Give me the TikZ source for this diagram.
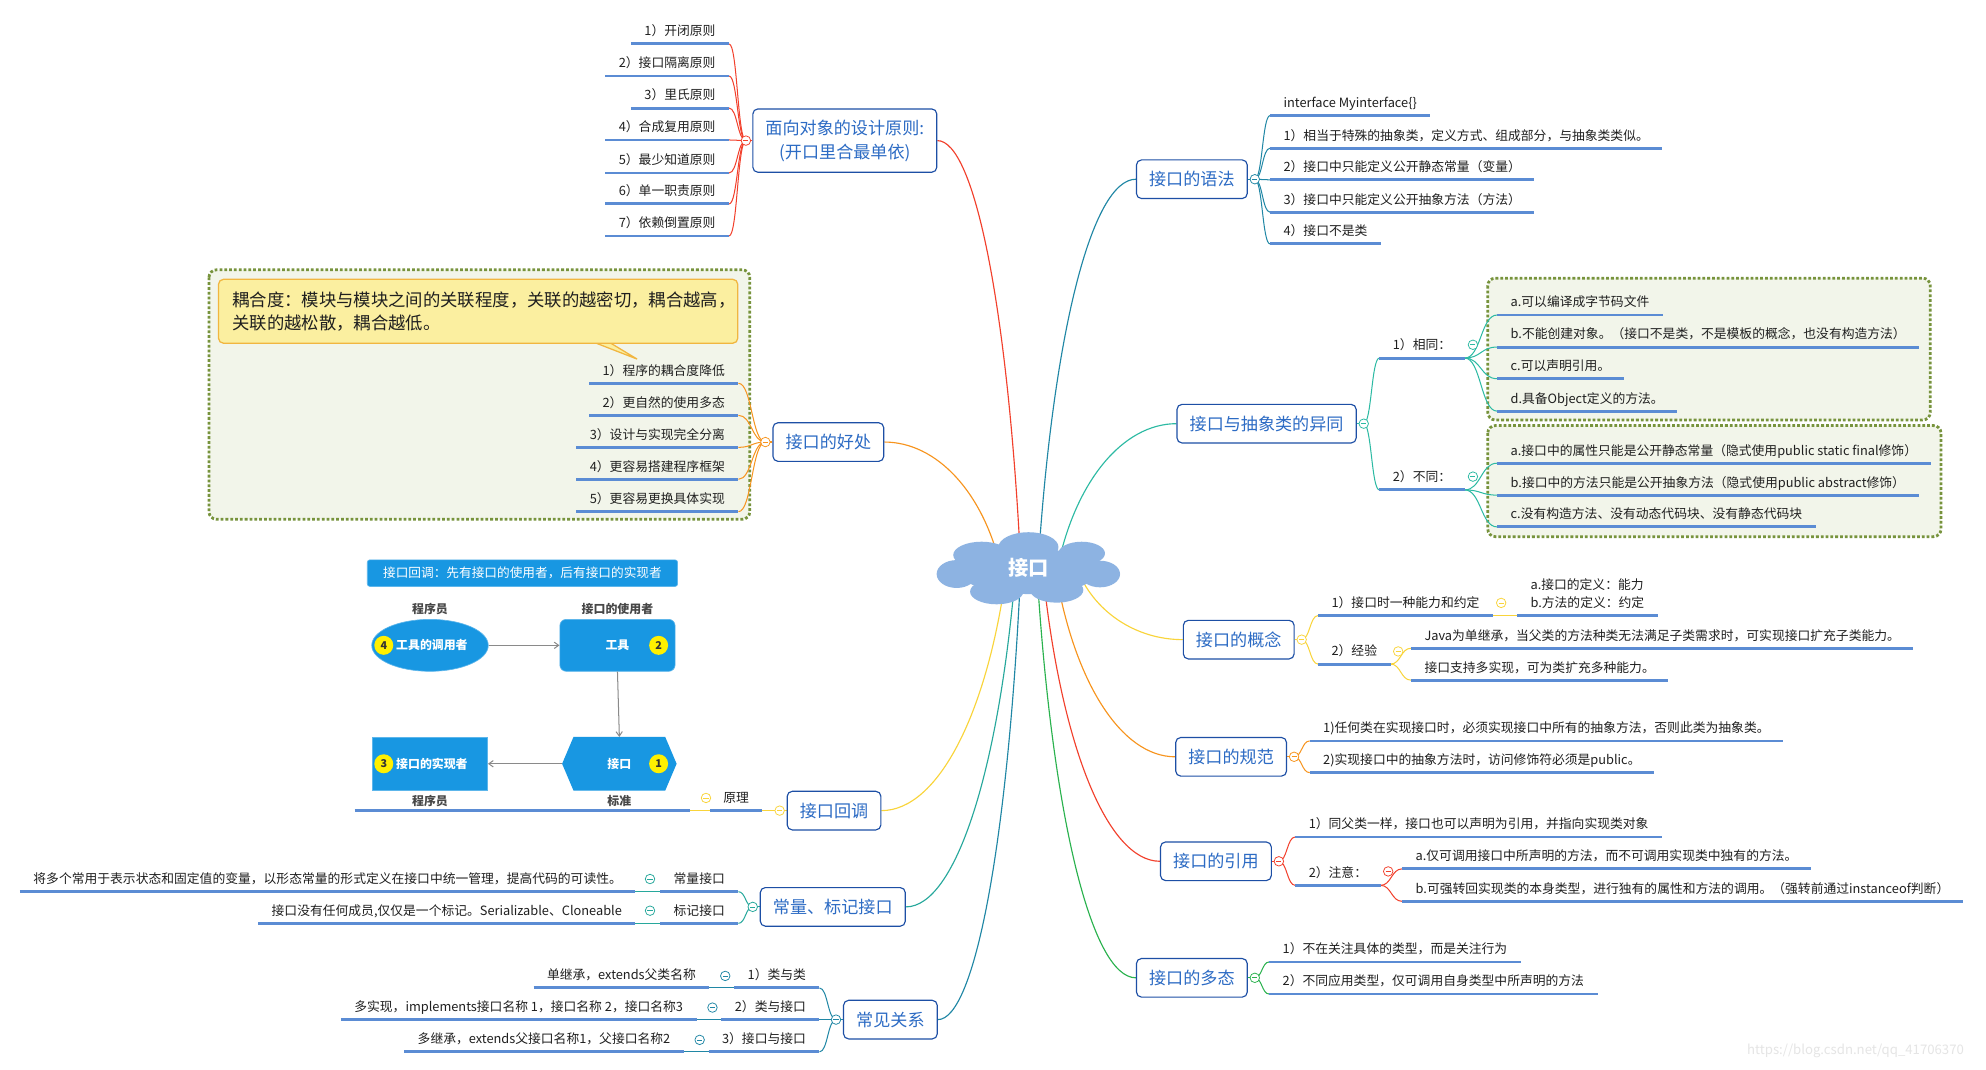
\documentclass[tikz,border=0pt]{standalone}
\usepackage{fontspec}
\setmainfont{Noto Sans CJK SC}
\usetikzlibrary{calc,arrows.meta,shapes.geometric}
\pgfdeclarelayer{back}
\pgfdeclarelayer{mid}
\pgfsetlayers{back,mid,main}
\definecolor{ubl}{HTML}{5B8CD4}
\definecolor{bxb}{HTML}{1D4FA5}
\definecolor{bxt}{HTML}{2C6BC4}
\definecolor{cred}{HTML}{F2402C}
\definecolor{cteal}{HTML}{2087A5}
\definecolor{cteal2}{HTML}{2CBAA3}
\definecolor{cteal3}{HTML}{27A89C}
\definecolor{corg}{HTML}{F7941E}
\definecolor{cyel}{HTML}{F9D43A}
\definecolor{cgrn}{HTML}{2AB24E}
\definecolor{cloudc}{HTML}{8DB3E2}
\definecolor{dotg}{HTML}{77933C}
\definecolor{dotfill}{HTML}{F2F5EA}
\definecolor{callf}{HTML}{FBEFA0}
\definecolor{callb}{HTML}{F1B640}
\definecolor{dblue}{HTML}{1897E2}
\definecolor{dyel}{HTML}{FFF000}
\definecolor{dgray}{HTML}{8A8A8A}
\newcommand\rconn[3]{\draw[conn,#1] let \p1=([xshift=#3pt]root.center), \p2=(#2), \n1={\x1+0.15*(\x2-\x1)}, \n2={\y1+0.6*(\y2-\y1)}, \n3={\x1+0.55*(\x2-\x1)} in (\p1) .. controls (\n1,\n2) and (\n3,\y2) .. (\p2);}
\newcommand\bconn[3]{\draw[br,#1] let \p1=(#2), \p2=(#3), \n1={0.5*(\x1+\x2)} in (\p1) .. controls (\n1,\y1) and (\n1,\y2) .. (\p2);}
\begin{document}
\begin{tikzpicture}[x=1pt,y=1pt,
 leaf/.style={font=\fontsize{10.1}{13}\selectfont, text=black!88, inner xsep=10.5pt, inner ysep=4pt, text height=8.2pt, text depth=2.2pt},
 uline/.style={draw=ubl, line width=2.3pt},
 topic/.style={draw=bxb, line width=0.9pt, rounded corners=4pt, fill=white, text=bxt, font=\fontsize{13.5}{19}\selectfont, inner xsep=10pt, inner ysep=3pt, minimum height=30.5pt},
 cc/.style={circle, draw=#1, fill=white, minimum size=7.5pt, inner sep=0pt, line width=0.6pt, path picture={\draw[#1, line width=0.6pt] ([xshift=-2pt]path picture bounding box.center) -- ([xshift=2pt]path picture bounding box.center);}},
 conn/.style={line width=0.9pt},
 br/.style={line width=0.8pt},
 dotbox/.style={draw=dotg, fill=dotfill, line width=2.2pt, dash pattern=on 2.2pt off 1.6pt, rounded corners=6pt},
 dshape/.style={fill=dblue, draw=dblue!70!white, line width=0.5pt, text=white, font=\fontsize{9.4}{11}\selectfont\bfseries, inner sep=0pt},
 ycirc/.style={circle, fill=dyel, minimum size=15pt, inner sep=0pt, text=black!80, font=\fontsize{8.5}{9}\selectfont\bfseries},
 dlab/.style={text=black!72, font=\fontsize{9.4}{11}\selectfont\bfseries, inner sep=1pt},
 darr/.style={draw=dgray, line width=0.8pt, -{Straight Barb[length=3.5pt,width=5pt]}}
]
\begin{pgfonlayer}{back}
\fill[white] (0,0) rectangle (1568,-844);
\draw[dotbox] (165,-213) rectangle (592,-410);
\draw[dotbox] (1174.6,-219.6) rectangle (1524,-331.6);
\draw[dotbox] (1174.6,-336) rectangle (1532.5,-423.7);
\filldraw[fill=callf, draw=callb, line width=1pt] (458,-266) -- (503,-283.5) -- (474,-266) -- cycle;
\node[draw=callb, fill=callf, line width=1pt, rounded corners=4pt, anchor=north west, minimum height=50.5pt, inner xsep=11pt, text width=388pt, align=left, font=\fontsize{13.7}{18}\selectfont, text=black!88] (note) at (172,-220) {耦合度：模块与模块之间的关联程度，关联的越密切，耦合越高，\\关联的越松散，耦合越低。};
\end{pgfonlayer}
\useasboundingbox (0,0) rectangle (1568,-844);

% cloud
\fill[cloudc] (812,-451) ellipse (55 and 18);
\fill[cloudc] (812,-432) ellipse (23.7 and 11.8);
\fill[cloudc] (775,-438.2) ellipse (22.4 and 10.5);
\fill[cloudc] (854,-436.9) ellipse (18.4 and 9.2);
\fill[cloudc] (755.3,-453.2) ellipse (15.8 and 11);
\fill[cloudc] (868.5,-453.2) ellipse (15.8 and 10.5);
\fill[cloudc] (786.9,-467.1) ellipse (21 and 10);
\fill[cloudc] (834.3,-465.8) ellipse (21 and 10);
\node[font=\fontsize{16}{16}\selectfont\bfseries, text=white] (root) at (812,-448) {接口};

% ---------- right side ----------
\node[topic] (syntax) at (941,-141.5) {接口的语法};
\node[leaf, anchor=south west] (s0) at (1002.7,-91.3) {interface Myinterface\{\}};
\node[leaf, anchor=south west] (s1) at (1002.7,-117) {1）相当于特殊的抽象类，定义方式、组成部分，与抽象类类似。};
\node[leaf, anchor=south west] (s2) at (1002.7,-142) {2）接口中只能定义公开静态常量（变量）};
\node[leaf, anchor=south west] (s3) at (1002.7,-167.5) {3）接口中只能定义公开抽象方法（方法）};
\node[leaf, anchor=south west] (s4) at (1002.7,-192.6) {4）接口不是类};

\node[topic] (diff) at (1000,-334.5) {接口与抽象类的异同};
\node[leaf, anchor=south west] (d1) at (1089,-282.7) {1）相同：};
\node[leaf, anchor=south west] (d2) at (1089,-386.8) {2）不同：};
\node[leaf, anchor=south west] (da) at (1182,-248.7) {a.可以编译成字节码文件};
\node[leaf, anchor=south west] (db) at (1182,-274) {b.不能创建对象。（接口不是类，不是模板的概念，也没有构造方法）};
\node[leaf, anchor=south west] (dc) at (1182,-299) {c.可以声明引用。};
\node[leaf, anchor=south west] (dd) at (1182,-324.6) {d.具备Object定义的方法。};
\node[leaf, anchor=south west] (de) at (1182,-365.7) {a.接口中的属性只能是公开静态常量（隐式使用public static final修饰）};
\node[leaf, anchor=south west] (df) at (1182,-390.9) {b.接口中的方法只能是公开抽象方法（隐式使用public abstract修饰）};
\node[leaf, anchor=south west] (dg) at (1182,-416) {c.没有构造方法、没有动态代码块、没有静态代码块};

\node[topic] (concept) at (978,-505) {接口的概念};
\node[leaf, anchor=south west] (k1) at (1040.6,-486) {1）接口时一种能力和约定};
\node[leaf, anchor=south west, align=left] (kab) at ([xshift=19pt]k1.south east) {a.接口的定义：能力\\[1.2pt]b.方法的定义：约定};
\node[leaf, anchor=south west] (k2) at (1040.6,-524.3) {2）经验};
\node[leaf, anchor=south west] (k2a) at (1114,-511.8) {Java为单继承，当父类的方法种类无法满足子类需求时，可实现接口扩充子类能力。};
\node[leaf, anchor=south west] (k2b) at (1114,-537) {接口支持多实现，可为类扩充多种能力。};

\node[topic] (spec) at (972,-597.5) {接口的规范};
\node[leaf, anchor=south west] (p1) at (1034,-585) {1)任何类在实现接口时，必须实现接口中所有的抽象方法，否则此类为抽象类。};
\node[leaf, anchor=south west] (p2) at (1034,-610) {2)实现接口中的抽象方法时，访问修饰符必须是public。};

\node[topic] (refn) at (960,-680) {接口的引用};
\node[leaf, anchor=south west] (f1) at (1022.6,-660.8) {1）同父类一样，接口也可以声明为引用，并指向实现类对象};
\node[leaf, anchor=south west] (f2) at (1022.6,-699) {2）注意：};
\node[leaf, anchor=south west] (f2a) at (1107,-686) {a.仅可调用接口中所声明的方法，而不可调用实现类中独有的方法。};
\node[leaf, anchor=south west] (f2b) at (1107,-711.6) {b.可强转回实现类的本身类型，进行独有的属性和方法的调用。（强转前通过instanceof判断）};

\node[topic] (poly) at (941,-772) {接口的多态};
\node[leaf, anchor=south west] (m1) at (1002,-759.5) {1）不在关注具体的类型，而是关注行为};
\node[leaf, anchor=south west] (m2) at (1002,-784.8) {2）不同应用类型，仅可调用自身类型中所声明的方法};

% ---------- left side ----------
\node[topic, align=center, minimum height=50pt] (oop) at (667,-111) {面向对象的设计原则:\\(开口里合最单依)};
\node[leaf, anchor=south east] (o1) at (575.6,-34.7) {1）开闭原则};
\node[leaf, anchor=south east] (o2) at (575.6,-60) {2）接口隔离原则};
\node[leaf, anchor=south east] (o3) at (575.6,-85.3) {3）里氏原则};
\node[leaf, anchor=south east] (o4) at (575.6,-110.5) {4）合成复用原则};
\node[leaf, anchor=south east] (o5) at (575.6,-136.6) {5）最少知道原则};
\node[leaf, anchor=south east] (o6) at (575.6,-161) {6）单一职责原则};
\node[leaf, anchor=south east] (o7) at (575.6,-186.3) {7）依赖倒置原则};

\node[topic] (benefit) at (654,-349) {接口的好处};
\node[leaf, anchor=south east] (b1) at (583,-302.6) {1）程序的耦合度降低};
\node[leaf, anchor=south east] (b2) at (583,-327.9) {2）更自然的使用多态};
\node[leaf, anchor=south east] (b3) at (583,-353.2) {3）设计与实现完全分离};
\node[leaf, anchor=south east] (b4) at (583,-378.4) {4）更容易搭建程序框架};
\node[leaf, anchor=south east] (b5) at (583,-404) {5）更容易更换具体实现};

\node[topic] (callback) at (658.5,-640) {接口回调};
\node[leaf, anchor=south east] (yl) at (602,-640) {原理};
\coordinate (diagR) at (545,-640);
\coordinate (diagL) at (280,-640);

\node[topic] (cmk) at (657.5,-716) {常量、标记接口};
\node[leaf, anchor=south east] (cm1) at (583,-704) {常量接口};
\node[leaf, anchor=south east] (cm2) at (583,-729) {标记接口};
\node[leaf, anchor=south east] (cl1) at ([xshift=-19.5pt]cm1.south west) {将多个常用于表示状态和固定值的变量，以形态常量的形式定义在接口中统一管理，提高代码的可读性。};
\node[leaf, anchor=south east] (cl2) at ([xshift=-19.5pt]cm2.south west) {接口没有任何成员,仅仅是一个标记。Serializable、Cloneable};

\node[topic] (rel) at (703,-805) {常见关系};
\node[leaf, anchor=south east] (r1) at (647,-780) {1）类与类};
\node[leaf, anchor=south east] (r2) at (647,-805) {2）类与接口};
\node[leaf, anchor=south east] (r3) at (647,-830.5) {3）接口与接口};
\node[leaf, anchor=south east] (rl1) at ([xshift=-19.5pt]r1.south west) {单继承，extends父类名称};
\node[leaf, anchor=south east] (rl2) at ([xshift=-19.5pt]r2.south west) {多实现，implements接口名称 1，接口名称 2，接口名称3};
\node[leaf, anchor=south east] (rl3) at ([xshift=-19.5pt]r3.south west) {多继承，extends父接口名称1，父接口名称2};

% underlines
\foreach \k in {s0,s1,s2,s3,s4,d1,d2,da,db,dc,dd,de,df,dg,k1,kab,k2,k2a,k2b,p1,p2,f1,f2,f2a,f2b,m1,m2,o1,o2,o3,o4,o5,o6,o7,b1,b2,b3,b4,b5,yl,cm1,cm2,cl1,cl2,r1,r2,r3,rl1,rl2,rl3}
  \draw[uline] (\k.south west) -- (\k.south east);
\draw[uline] (diagL) -- (diagR);

% collapse circles
\node[cc=cteal] (syntaxc) at ([xshift=5.5pt]syntax.east) {};
\node[cc=cteal2] (diffc) at ([xshift=5.5pt]diff.east) {};
\node[cc=cteal2] (d1c) at ([xshift=6.5pt,yshift=10.5pt]d1.south east) {};
\node[cc=cteal2] (d2c) at ([xshift=6.5pt,yshift=10.5pt]d2.south east) {};
\node[cc=cyel] (conceptc) at ([xshift=5.5pt]concept.east) {};
\node[cc=cyel] (k1c) at ([xshift=6.5pt,yshift=10pt]k1.south east) {};
\node[cc=cyel] (k2c) at ([xshift=6pt,yshift=10pt]k2.south east) {};
\node[cc=corg] (specc) at ([xshift=5.5pt]spec.east) {};
\node[cc=cred] (refnc) at ([xshift=5.5pt]refn.east) {};
\node[cc=cred] (f2c) at ([xshift=6pt,yshift=11pt]f2.south east) {};
\node[cc=cgrn] (polyc) at ([xshift=5.5pt]poly.east) {};
\node[cc=cred] (oopc) at ([xshift=-5pt]oop.west) {};
\node[cc=corg] (benefitc) at ([xshift=-5.5pt]benefit.west) {};
\node[cc=cyel] (callbackc) at ([xshift=-5.5pt]callback.west) {};
\node[cc=cyel] (ylc) at ([xshift=-3pt,yshift=10pt]yl.south west) {};
\node[cc=cteal3] (cmkc) at ([xshift=-5.5pt]cmk.west) {};
\node[cc=cteal3] (cm1c) at ([xshift=-8pt,yshift=10pt]cm1.south west) {};
\node[cc=cteal3] (cm2c) at ([xshift=-8pt,yshift=10pt]cm2.south west) {};
\node[cc=cteal] (relc) at ([xshift=-5.5pt]rel.west) {};
\node[cc=cteal] (r1c) at ([xshift=-7pt,yshift=9.5pt]r1.south west) {};
\node[cc=cteal] (r2c) at ([xshift=-7pt,yshift=9.5pt]r2.south west) {};
\node[cc=cteal] (r3c) at ([xshift=-7pt,yshift=9.5pt]r3.south west) {};

% ---------- callback diagram ----------
\node[dshape, rounded corners=2pt, minimum width=245pt, minimum height=21pt, font=\fontsize{10}{12}\selectfont] (ban) at (412.5,-452.5) {接口回调：先有接口的使用者，后有接口的实现者};
\node[dlab] (lab1) at (339.5,-481) {程序员};
\node[dlab] (lab2) at (487.5,-481) {接口的使用者};
\node[dlab] (lab3) at (339.5,-632) {程序员};
\node[dlab] (lab4) at (489,-632) {标准};
\node[dshape, ellipse, minimum width=92pt, minimum height=41pt] (ell) at (339.5,-509.5) {\hspace{3pt}工具的调用者};
\node[dshape, rounded corners=5pt, minimum width=91pt, minimum height=41pt] (tool) at (487.5,-509.5) {工具};
\node[dshape, minimum width=91pt, minimum height=42pt] (impl) at (339.5,-603) {\hspace{3pt}接口的实现者};
\node[text=white, font=\fontsize{9.4}{11}\selectfont\bfseries, minimum width=90pt, minimum height=42pt, inner sep=0pt] (hex) at (489,-603) {接口};
\node[ycirc] (n4) at (303,-509.5) {4};
\node[ycirc] (n2) at (520,-509.5) {2};
\node[ycirc] (n3) at (303,-603) {3};
\node[ycirc] (n1) at (520,-603) {1};
\draw[darr] (ell.east) -- (tool.west);
\draw[darr] (tool.south) -- (hex.north);
\draw[darr] (hex.west) -- (impl.east);

\node[text=black!10, font=\fontsize{10.4}{12}\selectfont] (wm) at (1465,-829.5) {https://blog.csdn.net/qq\_41706370};

% ---------- connectors ----------
\begin{pgfonlayer}{mid}
\fill[dblue] (hex.west) -- ([xshift=9pt]hex.north west) -- ([xshift=-9pt]hex.north east) -- (hex.east) -- ([xshift=-9pt]hex.south east) -- ([xshift=9pt]hex.south west) -- cycle;
\rconn{cred}{oop.east}{-6}
\rconn{cteal}{syntax.west}{7.5}
\rconn{cteal2}{diff.west}{23}
\rconn{corg}{benefit.east}{-22}
\rconn{cyel}{concept.west}{38}
\rconn{corg}{spec.west}{21}
\rconn{cred}{refn.west}{11}
\rconn{cgrn}{poly.west}{6.5}
\rconn{cyel}{callback.east}{-17}
\rconn{cteal3}{cmk.east}{-10}
\rconn{cteal}{rel.east}{-6}
\draw[conn,cteal] (syntax.east) -- (syntaxc.center);
\draw[conn,cteal2] (diff.east) -- (diffc.center);
\draw[conn,cyel] (concept.east) -- (conceptc.center);
\draw[conn,corg] (spec.east) -- (specc.center);
\draw[conn,cred] (refn.east) -- (refnc.center);
\draw[conn,cgrn] (poly.east) -- (polyc.center);
\draw[conn,cred] (oop.west) -- (oopc.center);
\draw[conn,corg] (benefit.west) -- (benefitc.center);
\draw[conn,cyel] (callback.west) -- (callbackc.center);
\draw[conn,cteal3] (cmk.west) -- (cmkc.center);
\draw[conn,cteal] (rel.west) -- (relc.center);
\foreach \k in {s0,s1,s2,s3,s4} {\bconn{cteal}{syntaxc.center}{\k.south west}}
\bconn{cteal2}{diffc.center}{d1.south west}
\bconn{cteal2}{diffc.center}{d2.south west}
\foreach \k in {da,db,dc,dd} {\bconn{cteal2}{d1.south east}{\k.south west}}
\foreach \k in {de,df,dg} {\bconn{cteal2}{d2.south east}{\k.south west}}
\bconn{cyel}{conceptc.center}{k1.south west}
\bconn{cyel}{conceptc.center}{k2.south west}
\draw[br,cyel] (k1.south east) -- (kab.south west);
\bconn{cyel}{k2.south east}{k2a.south west}
\bconn{cyel}{k2.south east}{k2b.south west}
\bconn{corg}{specc.center}{p1.south west}
\bconn{corg}{specc.center}{p2.south west}
\bconn{cred}{refnc.center}{f1.south west}
\bconn{cred}{refnc.center}{f2.south west}
\bconn{cred}{f2.south east}{f2a.south west}
\bconn{cred}{f2.south east}{f2b.south west}
\bconn{cgrn}{polyc.center}{m1.south west}
\bconn{cgrn}{polyc.center}{m2.south west}
\foreach \k in {o1,o2,o3,o4,o5,o6,o7} {\bconn{cred}{oopc.center}{\k.south east}}
\foreach \k in {b1,b2,b3,b4,b5} {\bconn{corg}{benefitc.center}{\k.south east}}
\draw[br,cyel] (callbackc.center) -- (yl.south east);
\draw[br,cyel] (yl.south west) -- (diagR);
\bconn{cteal3}{cmkc.center}{cm1.south east}
\bconn{cteal3}{cmkc.center}{cm2.south east}
\draw[br,cteal3] (cm1.south west) -- (cl1.south east);
\draw[br,cteal3] (cm2.south west) -- (cl2.south east);
\foreach \k in {r1,r2,r3} {\bconn{cteal}{relc.center}{\k.south east}}
\draw[br,cteal] (r1.south west) -- (rl1.south east);
\draw[br,cteal] (r2.south west) -- (rl2.south east);
\draw[br,cteal] (r3.south west) -- (rl3.south east);
\end{pgfonlayer}
\end{tikzpicture}
\end{document}
